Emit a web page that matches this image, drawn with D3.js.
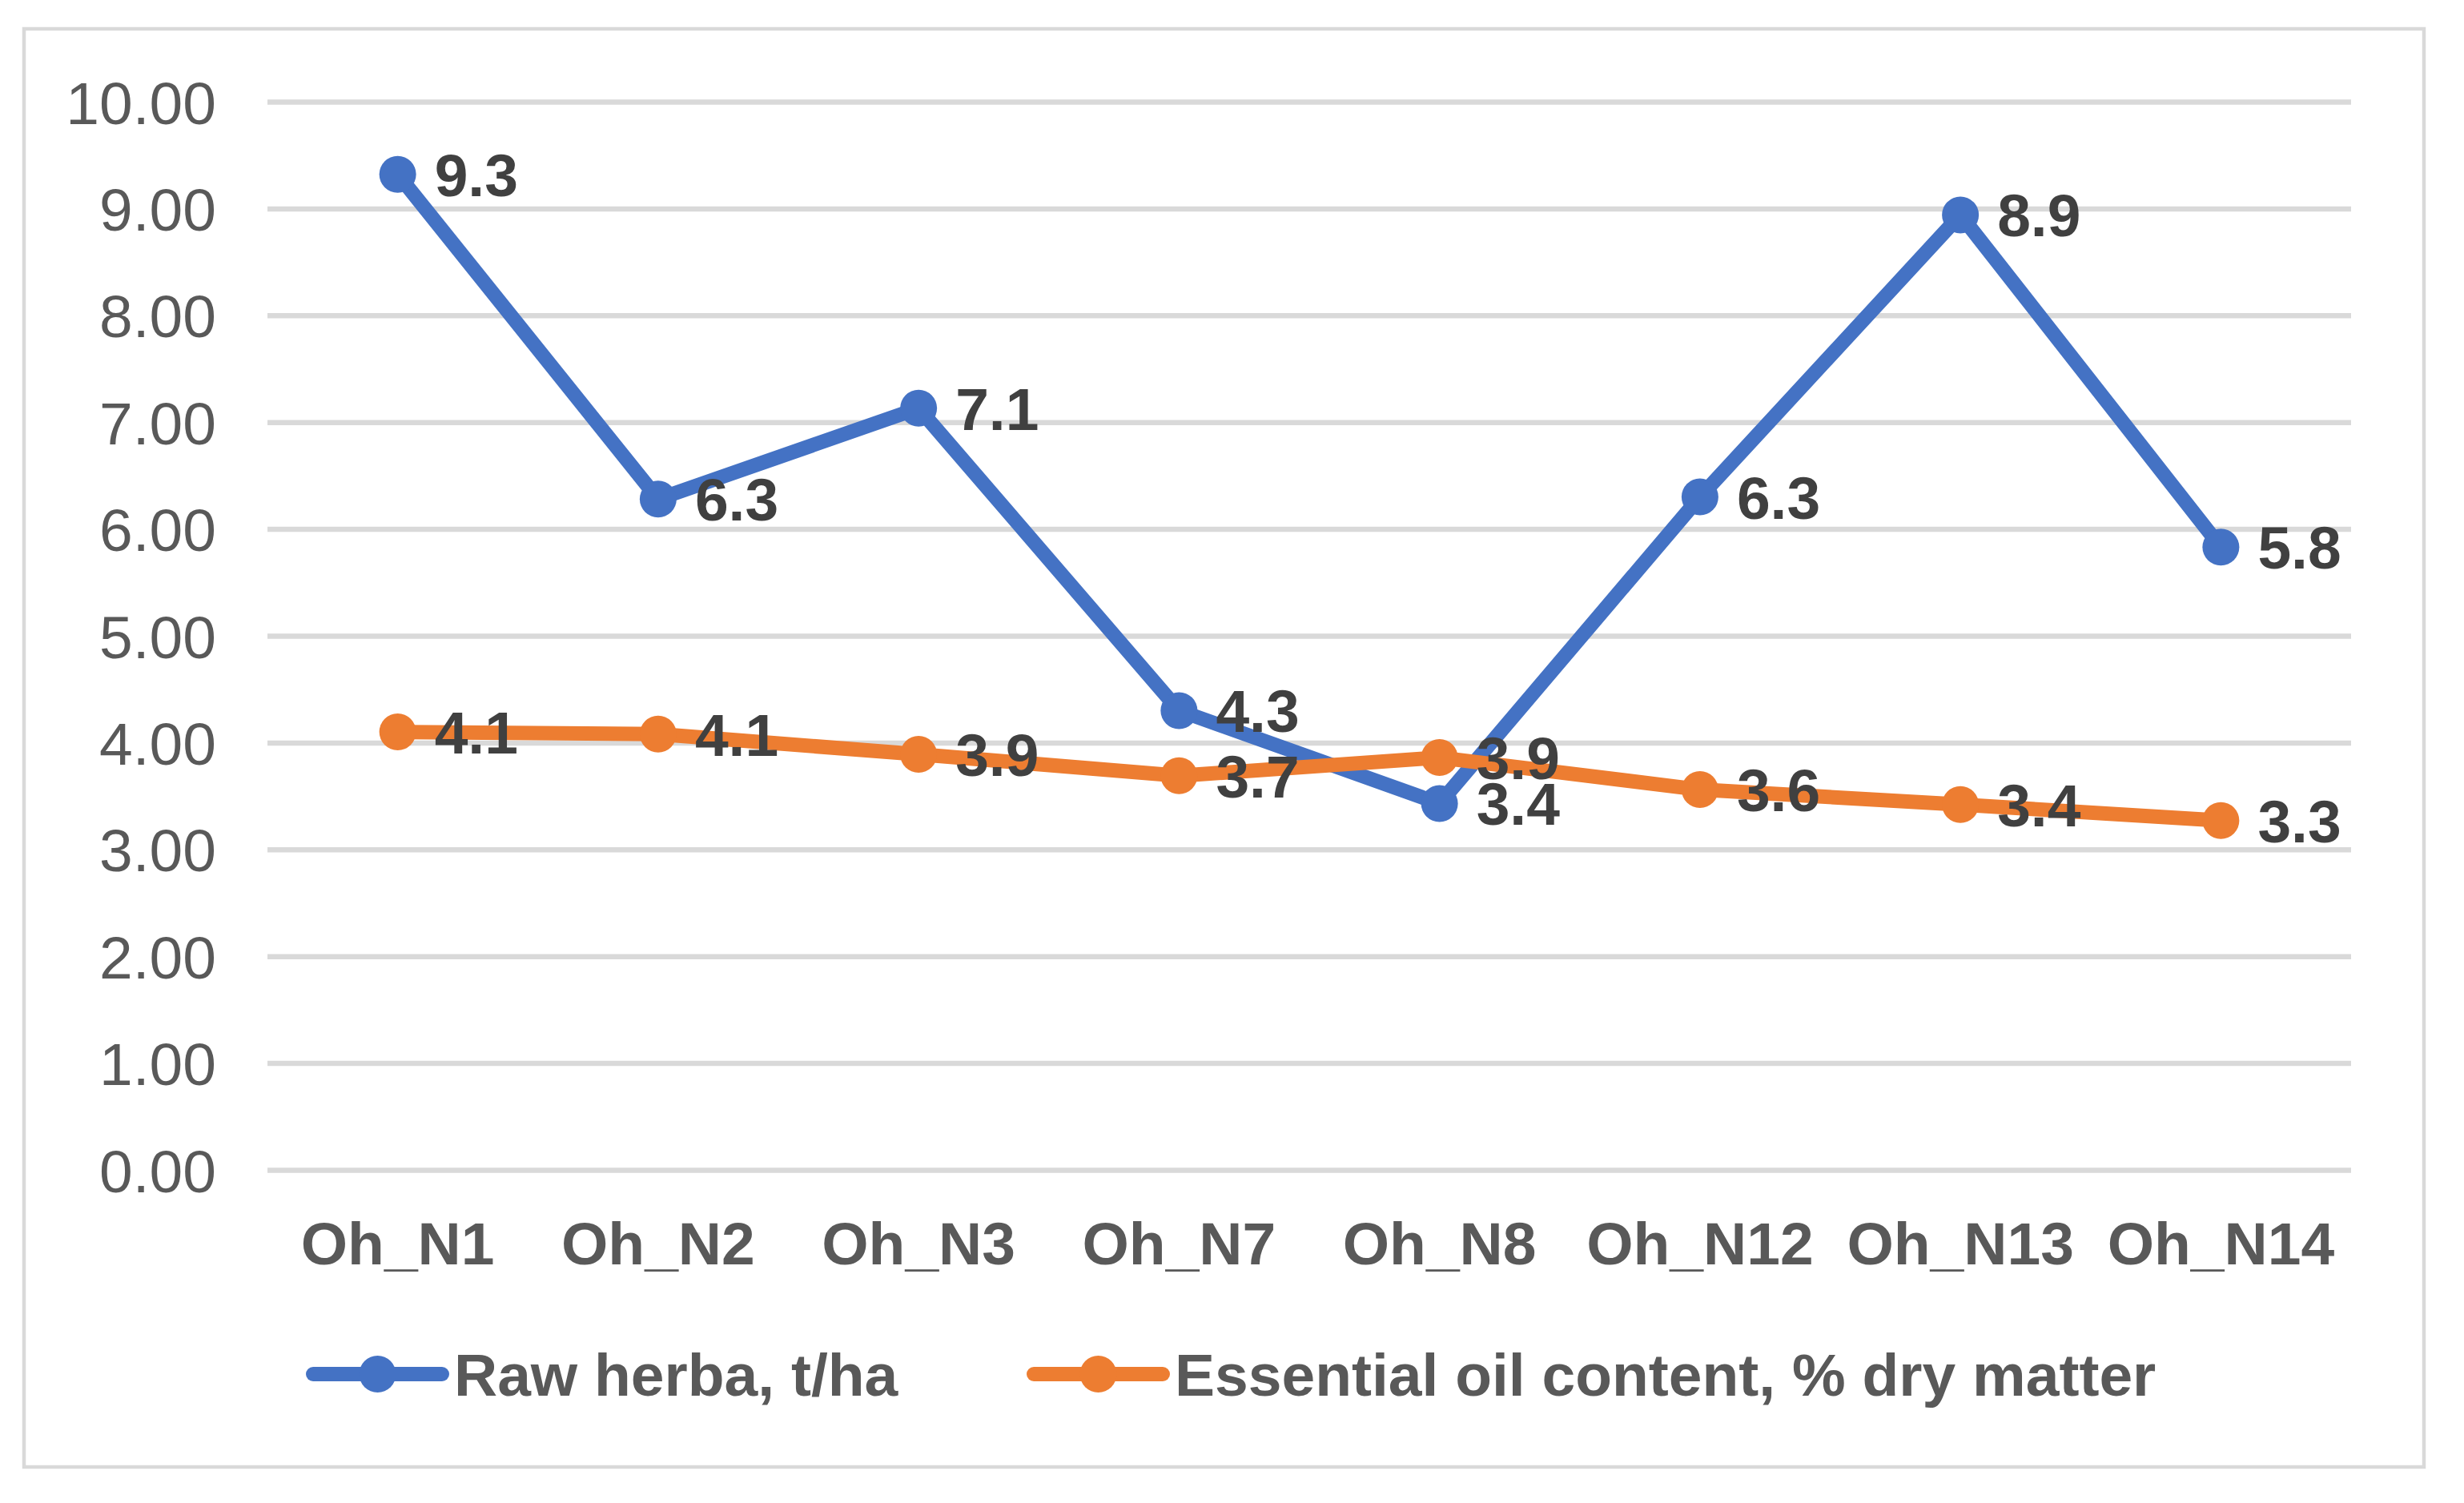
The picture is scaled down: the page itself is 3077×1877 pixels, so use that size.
<!DOCTYPE html>
<html>
<head>
<meta charset="utf-8">
<script src="https://cdn.jsdelivr.net/npm/d3@7"></script>
<style>
  html, body { margin: 0; padding: 0; background: #ffffff; }
  svg { display: block; }
</style>
</head>
<body>
<svg id="chart" width="3077" height="1877"></svg>
<script>
const categories = ["Oh_N1", "Oh_N2", "Oh_N3", "Oh_N7", "Oh_N8", "Oh_N12", "Oh_N13", "Oh_N14"];
const rawHerba = [9.32, 6.28, 7.13, 4.30, 3.43, 6.30, 8.94, 5.83];
const oilContent = [4.10, 4.08, 3.89, 3.69, 3.86, 3.56, 3.42, 3.27];
const seriesNames = ["Raw herba, t/ha", "Essential oil content, % dry matter"];
const seriesColors = ["#4472C4", "#ED7D31"];
const yTicks = [0, 1, 2, 3, 4, 5, 6, 7, 8, 9, 10];

const series = [
  { name: seriesNames[0], color: seriesColors[0], values: rawHerba },
  { name: seriesNames[1], color: seriesColors[1], values: oilContent }
];

const svg = d3.select("#chart");
const FONT = "'Liberation Sans', Arial, Helvetica, sans-serif";
const FS = 75;

// outer border
svg.append("rect")
  .attr("x", 30).attr("y", 36)
  .attr("width", 2997).attr("height", 1796)
  .attr("fill", "#ffffff")
  .attr("stroke", "#d9d9d9").attr("stroke-width", 4.5);

const plotLeft = 334, plotRight = 2936, plotTop = 127, plotBottom = 1461;

const x = d3.scaleBand().domain(categories).range([plotLeft, plotRight]);
const y = d3.scaleLinear().domain([0, 10]).range([plotBottom, plotTop]);
const cx = c => x(c) + x.bandwidth() / 2;

// Y axis with gridlines
const yAxis = svg.append("g")
  .attr("transform", `translate(${plotLeft},0)`)
  .call(d3.axisLeft(y)
    .tickValues(yTicks)
    .tickFormat(d3.format(".2f"))
    .tickSize(-(plotRight - plotLeft))
    .tickPadding(64));
yAxis.select(".domain").remove();
yAxis.selectAll(".tick line")
  .attr("stroke", "#d9d9d9").attr("stroke-width", 6.5);
yAxis.selectAll(".tick text")
  .attr("fill", "#595959")
  .attr("font-family", FONT)
  .attr("font-size", FS)
  .attr("dy", "0.36em");

// X axis labels
const xAxis = svg.append("g")
  .attr("transform", `translate(0,${plotBottom})`)
  .call(d3.axisBottom(x).tickSize(0).tickPadding(0));
xAxis.select(".domain").remove();
xAxis.selectAll(".tick text")
  .attr("fill", "#595959")
  .attr("font-family", FONT)
  .attr("font-size", FS)
  .attr("font-weight", "bold")
  .attr("y", 118)
  .attr("dy", 0);

// Lines
const line = d3.line()
  .x((d, i) => cx(categories[i]))
  .y(d => y(d));

series.forEach(s => {
  const g = svg.append("g");
  g.append("path")
    .datum(s.values)
    .attr("d", line)
    .attr("fill", "none")
    .attr("stroke", s.color)
    .attr("stroke-width", 18)
    .attr("stroke-linejoin", "round")
    .attr("stroke-linecap", "round");
  g.selectAll("circle")
    .data(s.values)
    .join("circle")
    .attr("cx", (d, i) => cx(categories[i]))
    .attr("cy", d => y(d))
    .attr("r", 23)
    .attr("fill", s.color);
});

// Data labels
series.forEach(s => {
  svg.append("g").selectAll("text")
    .data(s.values)
    .join("text")
    .attr("x", (d, i) => cx(categories[i]) + 46)
    .attr("y", d => y(d))
    .attr("dy", "0.36em")
    .attr("fill", "#404040")
    .attr("font-family", FONT)
    .attr("font-size", FS)
    .attr("font-weight", "bold")
    .text(d => d.toFixed(1));
});

// Legend
const legendY = 1716;
const legendItems = [
  { s: series[0], x0: 382, x1: 561, tx: 567 },
  { s: series[1], x0: 1282, x1: 1461, tx: 1467 }
];
const legend = svg.append("g");
legendItems.forEach(item => {
  const g = legend.append("g");
  g.append("line")
    .attr("x1", item.x0 + 9).attr("x2", item.x1 - 9)
    .attr("y1", legendY).attr("y2", legendY)
    .attr("stroke", item.s.color)
    .attr("stroke-width", 18)
    .attr("stroke-linecap", "round");
  g.append("circle")
    .attr("cx", (item.x0 + item.x1) / 2)
    .attr("cy", legendY)
    .attr("r", 23)
    .attr("fill", item.s.color);
  g.append("text")
    .attr("x", item.tx)
    .attr("y", 1743)
    .attr("fill", "#595959")
    .attr("font-family", FONT)
    .attr("font-size", FS)
    .attr("font-weight", "bold")
    .text(item.s.name);
});
</script>
</body>
</html>
